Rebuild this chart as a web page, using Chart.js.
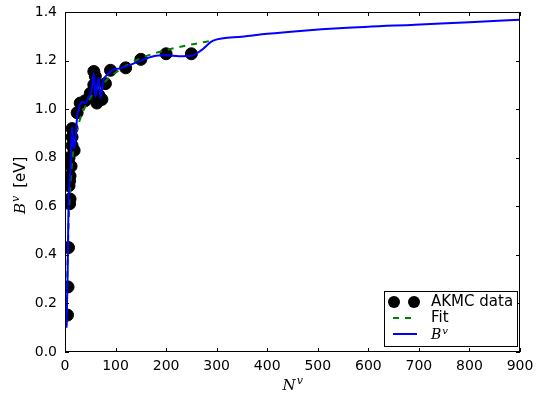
<!DOCTYPE html>
<html>
<head>
<meta charset="utf-8">
<script src="https://cdn.jsdelivr.net/npm/chart.js@4.4.1/dist/chart.umd.min.js"></script>
<style>
  html, body { margin: 0; padding: 0; background: #fff; }
  #wrap { width: 544px; height: 398px; position: relative; }
</style>
</head>
<body>
<div id="wrap"><canvas id="chartArea"></canvas></div>
<script>
// AKMC simulation results: vacancy count vs binding energy
const akmcN = [5, 6, 7, 9, 10, 8, 9, 10, 12, 8, 14, 14, 14, 18, 24, 30, 40, 50, 57, 57, 60, 63, 67, 73, 80, 90, 120, 150, 200, 250];
const akmcB = [0.152, 0.268, 0.43, 0.61, 0.63, 0.685, 0.705, 0.725, 0.765, 0.80, 0.85, 0.885, 0.92, 0.83, 0.985, 1.025, 1.035, 1.065, 1.10, 1.155, 1.135, 1.025, 1.058, 1.04, 1.105, 1.16, 1.17, 1.205, 1.228, 1.228];

// fitted curve
const fitN = [3, 4, 6, 8, 10, 14, 20, 30, 40, 60, 80, 100, 120, 150, 200, 250, 290];
const fitB = [0.11, 0.25, 0.45, 0.58, 0.67, 0.78, 0.88, 0.96, 1.01, 1.075, 1.115, 1.15, 1.178, 1.21, 1.243, 1.266, 1.282];

// B^v used downstream (data below ~290, fit above)
const bvN = [3, 5, 6, 7, 9, 11, 13, 14, 17, 20, 24, 30, 34, 40, 47, 52, 57, 60, 64, 67, 70, 76, 83, 93, 109, 120, 150, 175, 200, 225, 250, 270, 293, 350, 400, 465, 550, 692, 800, 900];
const bvB = [0.10, 0.30, 0.45, 0.62, 0.70, 0.76, 0.88, 0.925, 0.84, 0.86, 0.967, 1.02, 1.03, 1.025, 1.051, 1.07, 1.149, 1.051, 1.10, 1.128, 1.046, 1.12, 1.14, 1.16, 1.168, 1.175, 1.20, 1.218, 1.222, 1.218, 1.22, 1.243, 1.282, 1.298, 1.31, 1.322, 1.334, 1.348, 1.358, 1.368];

const xTicks = [0, 100, 200, 300, 400, 500, 600, 700, 800, 900];
const yTicks = [0.0, 0.2, 0.4, 0.6, 0.8, 1.0, 1.2, 1.4];

const toPts = (xs, ys) => xs.map((x, i) => ({ x: x, y: ys[i] }));

const SANS = '"DejaVu Sans", sans-serif';

// B^v / N^v style label: italic base + small raised "v"
function mathLabel(ctx, x, y, base, size) {
  ctx.font = 'italic ' + size + 'px "DejaVu Serif", serif';
  const w1 = ctx.measureText(base).width;
  ctx.fillText(base, x, y);
  ctx.font = 'italic ' + Math.round(size * 0.7) + 'px "DejaVu Serif", serif';
  ctx.fillText('v', x + w1 + 1, y - size * 0.38);
  return w1 + 1 + ctx.measureText('v').width;
}

const framePlugin = {
  id: 'frame',
  afterDraw(chart) {
    const ctx = chart.ctx;
    const a = chart.chartArea;
    const xs = chart.scales.x, ys = chart.scales.y;
    ctx.save();
    ctx.strokeStyle = '#000';
    ctx.lineWidth = 1;
    ctx.strokeRect(a.left + 0.5, a.top + 0.5, a.right - a.left - 1, a.bottom - a.top - 1);
    // inward tick marks on all four sides
    ctx.beginPath();
    xTicks.forEach(t => {
      const px = Math.round(xs.getPixelForValue(t)) + 0.5;
      ctx.moveTo(px, a.bottom); ctx.lineTo(px, a.bottom - 4);
      ctx.moveTo(px, a.top); ctx.lineTo(px, a.top + 4);
    });
    yTicks.forEach(t => {
      const py = Math.round(ys.getPixelForValue(t)) + 0.5;
      ctx.moveTo(a.left, py); ctx.lineTo(a.left + 4, py);
      ctx.moveTo(a.right, py); ctx.lineTo(a.right - 4, py);
    });
    ctx.stroke();

    // axis titles
    ctx.fillStyle = '#000';
    ctx.textBaseline = 'alphabetic';
    ctx.textAlign = 'left';
    mathLabel(ctx, (a.left + a.right) / 2 - 10, 390, 'N', 15);

    ctx.save();
    ctx.translate(25, 182);
    ctx.rotate(-Math.PI / 2);
    const bw = mathLabel(ctx, -32, 0, 'B', 15);
    ctx.font = '15px ' + SANS;
    ctx.fillText('[eV]', -32 + bw + 8, 0);
    ctx.restore();

    // legend
    const lx = 384, ly = 291, lw = 133, lh = 55;
    ctx.fillStyle = '#fff';
    ctx.fillRect(lx, ly, lw, lh);
    ctx.strokeStyle = '#000';
    ctx.strokeRect(lx + 0.5, ly + 0.5, lw, lh);
    const rows = [302, 318, 334];
    ctx.fillStyle = '#000';
    [394, 414].forEach(cx => {
      ctx.beginPath();
      ctx.arc(cx, rows[0], 6, 0, Math.PI * 2);
      ctx.fill();
    });
    ctx.strokeStyle = '#008000';
    ctx.lineWidth = 2;
    ctx.setLineDash([6, 6]);
    ctx.beginPath(); ctx.moveTo(393, rows[1]); ctx.lineTo(417, rows[1]); ctx.stroke();
    ctx.setLineDash([]);
    ctx.strokeStyle = '#0000ff';
    ctx.beginPath(); ctx.moveTo(393, rows[2]); ctx.lineTo(417, rows[2]); ctx.stroke();

    ctx.fillStyle = '#000';
    ctx.textBaseline = 'middle';
    ctx.font = '15px ' + SANS;
    ctx.fillText('AKMC data', 431, rows[0]);
    ctx.fillText('Fit', 431, rows[1]);
    ctx.textBaseline = 'alphabetic';
    mathLabel(ctx, 431, rows[2] + 5, 'B', 14);
    ctx.restore();
  }
};

const chartArea = document.getElementById('chartArea');
const myChart = new Chart(chartArea, {
  type: 'scatter',
  data: {
    datasets: [
      {
        label: 'AKMC data',
        data: toPts(akmcN, akmcB),
        backgroundColor: '#000',
        borderColor: '#000',
        pointRadius: 6,
        showLine: false,
        clip: 0,
        order: 3,
      },
      {
        label: 'Fit',
        data: toPts(fitN, fitB),
        showLine: true,
        borderColor: '#008000',
        borderWidth: 2,
        borderDash: [6, 6],
        pointRadius: 0,
        cubicInterpolationMode: 'monotone',
        clip: 0,
        order: 2,
      },
      {
        label: 'Bv',
        data: toPts(bvN, bvB),
        showLine: true,
        borderColor: '#0000ff',
        borderWidth: 2,
        pointRadius: 0,
        cubicInterpolationMode: 'monotone',
        clip: 0,
        order: 1,
      },
    ],
  },
  options: {
    responsive: true,
    maintainAspectRatio: false,
    animation: false,
    layout: { padding: { left: 0, top: 12, right: 24, bottom: 0 } },
    scales: {
      x: {
        type: 'linear',
        min: 0,
        max: 900,
        afterBuildTicks: s => { s.ticks = xTicks.map(v => ({ value: v })); },
        afterFit: s => { s.height = 46; s.paddingLeft = 0; s.paddingRight = 0; },
        grid: { display: false, drawTicks: false },
        border: { display: false },
        ticks: { color: '#000', padding: 6, font: { family: 'DejaVu Sans', size: 14 } },
      },
      y: {
        type: 'linear',
        min: 0,
        max: 1.4,
        afterBuildTicks: s => { s.ticks = yTicks.map(v => ({ value: v })); },
        afterFit: s => { s.width = 65; s.paddingTop = 0; s.paddingBottom = 0; },
        grid: { display: false, drawTicks: false },
        border: { display: false },
        ticks: {
          color: '#000',
          padding: 8,
          font: { family: 'DejaVu Sans', size: 14 },
          callback: v => Number(v).toFixed(1),
        },
      },
    },
    plugins: {
      legend: { display: false },
      tooltip: { enabled: false },
    },
  },
  plugins: [framePlugin],
});
</script>
</body>
</html>
